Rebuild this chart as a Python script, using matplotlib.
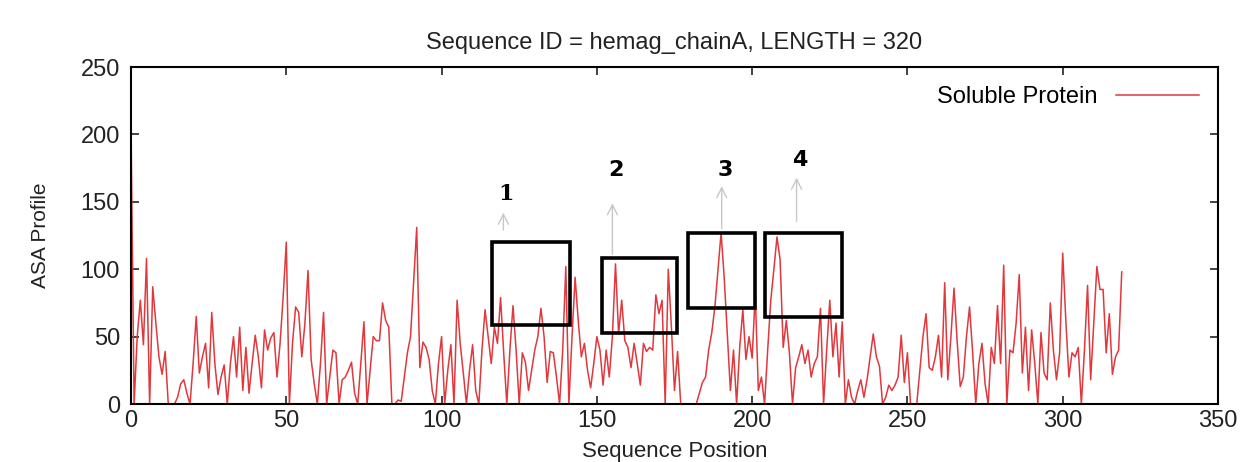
import numpy as np
import matplotlib
matplotlib.use("Agg")
import matplotlib.pyplot as plt
from matplotlib.patches import Rectangle

plt.rcParams['font.family'] = ['Liberation Sans', 'DejaVu Sans']

# ASA values per sequence position (0..319)
asa = [
    205, 0, 50, 77, 44, 108, 0, 87, 60, 35,
    22, 39, 0, 0, 0, 5, 15, 18, 8, 0,
    30, 65, 23, 35, 45, 12, 68, 30, 7, 20,
    29, 0, 30, 50, 20, 57, 10, 42, 8, 30,
    51, 35, 12, 55, 40, 49, 53, 20, 45, 80,
    120, 0, 45, 72, 68, 35, 60, 99, 33, 15,
    0, 30, 68, 0, 20, 40, 38, 0, 18, 20,
    25, 31, 8, 0, 30, 61, 0, 25, 50, 47,
    47, 75, 62, 57, 0, 0, 3, 2, 20, 38,
    50, 90, 131, 27, 46, 42, 33, 10, 0, 30,
    50, 0, 25, 44, 0, 77, 45, 23, 0, 25,
    44, 10, 0, 40, 70, 50, 30, 57, 45, 79,
    38, 0, 40, 73, 40, 0, 38, 31, 10, 25,
    40, 50, 71, 50, 16, 39, 38, 20, 0, 40,
    102, 0, 50, 94, 62, 35, 45, 25, 12, 30,
    50, 40, 14, 40, 20, 50, 104, 52, 77, 47,
    42, 27, 45, 30, 14, 45, 39, 42, 40, 81,
    67, 77, 0, 100, 57, 10, 39, 0, 0, 0,
    0, 0, 0, 8, 16, 20, 40, 53, 72, 100,
    127, 94, 52, 10, 40, 0, 42, 70, 33, 50,
    34, 82, 10, 20, 0, 40, 77, 100, 124, 107,
    42, 62, 38, 0, 27, 35, 44, 30, 40, 20,
    30, 35, 71, 0, 40, 77, 35, 60, 20, 61,
    0, 18, 5, 0, 10, 18, 5, 18, 35, 52,
    35, 28, 0, 5, 14, 10, 14, 20, 51, 16,
    38, 0, 0, 0, 25, 50, 67, 27, 25, 35,
    51, 20, 90, 18, 50, 86, 47, 13, 20, 50,
    72, 38, 0, 30, 45, 15, 0, 42, 30, 73,
    30, 103, 0, 40, 38, 60, 96, 23, 57, 10,
    55, 30, 0, 53, 23, 18, 75, 40, 18, 38,
    112, 62, 20, 38, 35, 42, 0, 40, 88, 18,
    60, 102, 85, 85, 38, 67, 22, 35, 40, 98,
]
positions = np.arange(len(asa))

# highlighted regions: (x0, x1, y0, y1)
box_x0 = [116.3, 151.5, 179.4, 204.1]
box_x1 = [141.3, 175.9, 200.9, 228.8]
box_y0 = [58.6, 53.0, 71.4, 64.8]
box_y1 = [120.4, 108.5, 127.0, 127.0]
# arrow above each box: x, start y, end y, label y
arrow_x = [119.9, 155.0, 190.2, 214.3]
arrow_y0 = [127, 109, 128, 133.5]
arrow_y1 = [144, 151, 163.7, 170]
label_y = [156, 173.6, 173.6, 181]
labels = ["1", "2", "3", "4"]

fig = plt.figure(figsize=(12.5, 4.62), dpi=100)
ax = fig.add_axes([0.1048, 0.1255, 0.8696, 0.7294])

ax.plot(positions, asa, color='#e0383c', lw=1.1, label='Soluble Protein')

for i in range(4):
    ax.add_patch(Rectangle((box_x0[i], box_y0[i]), box_x1[i] - box_x0[i],
                           box_y1[i] - box_y0[i], fill=False,
                           edgecolor='black', lw=2.6, zorder=5))
    ax.annotate('', xy=(arrow_x[i], arrow_y1[i]), xytext=(arrow_x[i], arrow_y0[i]),
                arrowprops=dict(arrowstyle='->', color='#c8c8c8', lw=1.0,
                                mutation_scale=18))
    fam = 'DejaVu Serif' if labels[i] == "1" else 'DejaVu Sans'
    ax.text(arrow_x[i] + 1, label_y[i], labels[i], ha='center', va='center',
            fontsize=16, fontweight='bold', family=fam)

ax.set_xlim(0, 350)
ax.set_ylim(0, 250)
ax.set_xticks(np.arange(0, 351, 50))
ax.set_yticks(np.arange(0, 251, 50))
ax.tick_params(direction='in', top=True, right=True, length=6, width=1.2,
               labelsize=17, colors='#222222')
ax.tick_params(axis='x', pad=4)
ax.tick_params(axis='y', pad=8)
for s in ax.spines.values():
    s.set_linewidth(1.5)

ax.set_xlabel('Sequence Position', fontsize=16, color='#222222', labelpad=7)
ax.set_ylabel('ASA Profile', fontsize=15, color='#222222', labelpad=22)
ax.set_title('Sequence ID = hemag_chainA, LENGTH = 320', fontsize=17,
             color='#222222', pad=13)

ax.legend(loc='upper right', frameon=False, markerfirst=False, fontsize=17,
          handlelength=3.5, borderaxespad=0.4)

fig.savefig('out.png', dpi=100)
